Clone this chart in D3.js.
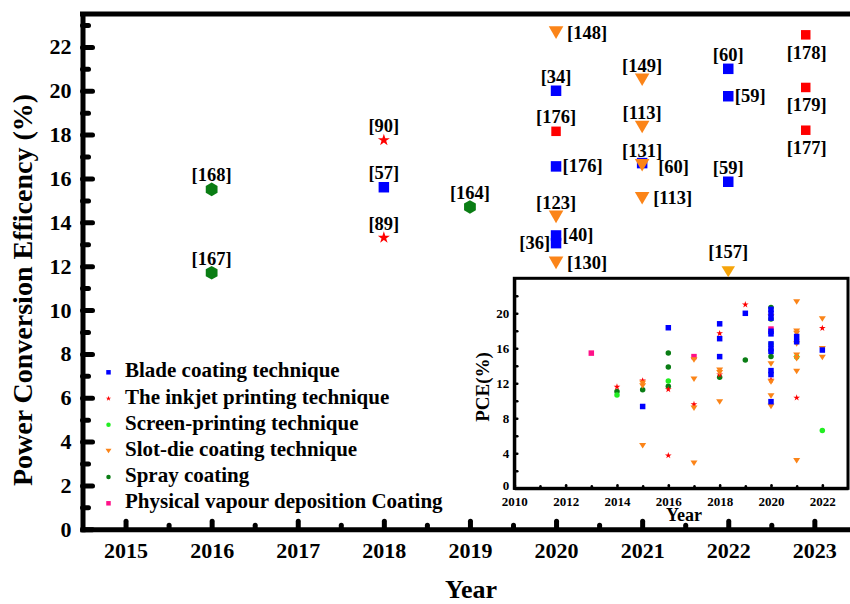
<!DOCTYPE html>
<html>
<head>
<meta charset="utf-8">
<script src="https://cdn.jsdelivr.net/npm/d3@7"></script>
<style>
  body { margin: 0; background: #fff; }
  text { font-family: "Liberation Serif", "Times New Roman", serif; font-weight: bold; fill: #000; }
</style>
</head>
<body>
<div class="chart"></div>
<script>
// ---- main panel data (year, PCE %, reference) ----
var mainBladeYears = [2018, 2020, 2020, 2020, 2020, 2021, 2022, 2022, 2022];
var mainBladePCE   = [15.6, 20.0, 16.55, 13.4, 13.05, 16.7, 21.0, 19.75, 15.85];
var mainBladeRefs  = ['[57]', '[34]', '[176]', '[40]', '[36]', '[60]', '[60]', '[59]', '[59]'];

var mainInkjetYears = [2018, 2018];
var mainInkjetPCE   = [17.75, 13.3];
var mainInkjetRefs  = ['[90]', '[89]'];

var mainSprayYears = [2016, 2016, 2019];
var mainSprayPCE   = [15.5, 11.7, 14.7];
var mainSprayRefs  = ['[168]', '[167]', '[164]'];

var mainSlotYears = [2020, 2020, 2020, 2021, 2021, 2021, 2021];
var mainSlotPCE   = [22.65, 14.25, 12.15, 20.5, 18.35, 16.6, 15.1];
var mainSlotRefs  = ['[148]', '[123]', '[130]', '[149]', '[113]', '[131]', '[113]'];

var mainSlot2Years = [2022];
var mainSlot2PCE   = [11.75];
var mainSlot2Refs  = ['[157]'];

var mainOtherYears = [2020, 2022.9, 2022.9, 2022.9];
var mainOtherPCE   = [18.15, 22.55, 20.15, 18.2];
var mainOtherRefs  = ['[176]', '[178]', '[179]', '[177]'];

// where each reference label sits around its marker (t = top, r = right, l = left, b = below)
var bladeLabelSide  = ['t', 't', 'r', 'r', 'l', 'rr', 't', 'r', 't'];
var inkjetLabelSide = ['t', 't'];
var sprayLabelSide  = ['t', 't', 't'];
var slotLabelSide   = ['r', 't', 'r', 't', 't', 't', 'r'];
var slot2LabelSide  = ['T'];
var otherLabelSide  = ['t', 'b', 'b', 'b'];

var legendNames = ['Blade coating technique', 'The inkjet printing technique', 'Screen-printing technique',
                   'Slot-die coating technique', 'Spray coating', 'Physical vapour deposition Coating'];

var xTickYears = [2015, 2016, 2017, 2018, 2019, 2020, 2021, 2022, 2023];
var yTickValues = [0, 2, 4, 6, 8, 10, 12, 14, 16, 18, 20, 22];

// ---- inset data ----
var insetBladeYears = [2015, 2016, 2018, 2018, 2018, 2019, 2020, 2020, 2020, 2020, 2020, 2020, 2020, 2020, 2020, 2020, 2020, 2021, 2021, 2022];
var insetBladePCE   = [9.35, 18.35, 18.8, 17.1, 15.05, 20.0, 20.45, 20.0, 19.45, 17.95, 17.65, 16.5, 15.95, 15.65, 13.45, 13.0, 9.9, 17.35, 16.75, 15.8];

var insetInkjetYears = [2014, 2015, 2016, 2016, 2017, 2018, 2018, 2019, 2020, 2021, 2022];
var insetInkjetPCE   = [11.6, 12.3, 11.3, 3.75, 9.6, 17.7, 13.0, 21.0, 12.4, 10.35, 18.3];

var insetScreenYears = [2014, 2016, 2020, 2021, 2022];
var insetScreenPCE   = [10.65, 12.25, 16.5, 15.0, 6.6];

var insetSlotYears = [2015, 2015, 2015, 2017, 2017, 2017, 2017, 2018, 2018, 2018, 2020, 2020, 2020, 2020, 2020,
                      2021, 2021, 2021, 2021, 2021, 2021, 2021, 2021, 2022, 2022, 2022];
var insetSlotPCE   = [12.0, 11.7, 4.85, 14.65, 12.45, 9.15, 2.85, 13.5, 13.2, 9.85, 19.6, 14.2, 12.15, 10.55, 9.35,
                      21.3, 17.95, 17.7, 16.5, 15.2, 14.8, 13.35, 3.15, 19.35, 15.95, 14.95];

var insetSprayYears = [2014, 2015, 2016, 2016, 2016, 2018, 2019, 2020, 2020, 2020];
var insetSprayPCE   = [11.05, 11.25, 15.45, 13.85, 11.65, 12.7, 14.65, 20.65, 19.35, 15.05];

var insetPvdYears = [2013, 2017, 2020];
var insetPvdPCE   = [15.45, 15.05, 18.2];

var insetXTicks = [2010, 2012, 2014, 2016, 2018, 2020, 2022];
var insetYTicks = [0, 4, 8, 12, 16, 20];

// ---- colours ----
var cBlue = '#0000ff', cRed = '#ff0000', cLime = '#22ee22', cOrange = '#fb8418',
    cGold = '#f6a40a', cGreen = '#0a7d14', cPink = '#ff1088';

var svgWidth = 850;
var svgHeight = 604;
var serif = '"Liberation Serif", "Times New Roman", serif';

var svg = d3.select('.chart')
  .append('svg')
  .attr('width', svgWidth)
  .attr('height', svgHeight);

// main scales
var x = d3.scaleLinear().domain([2014.5, 2023.5]).range([82.5, 857.4]);
var y = d3.scaleLinear().domain([0, 23.5]).range([529.3, 14]);

// marker shapes
function trianglePath(w, h) {
  return 'M' + (-w / 2) + ',' + (-h / 2) + 'L' + (w / 2) + ',' + (-h / 2) + 'L0,' + (h / 2) + 'Z';
}
function hexPath(r) {
  var p = [];
  for (var i = 0; i < 6; i++) {
    var a = Math.PI / 3 * i - Math.PI / 2;
    p.push([r * Math.cos(a), r * Math.sin(a)]);
  }
  return 'M' + p.join('L') + 'Z';
}
function squarePath(s) { return d3.symbol(d3.symbolSquare, s * s)(); }
function starPath(size) { return d3.symbol(d3.symbolStar, size)(); }
function circlePath(d) { return d3.symbol(d3.symbolCircle, Math.PI * d * d / 4)(); }

// ---- main axes ----
function styleAxis(g, size) {
  g.select('.domain').attr('stroke-width', 5).attr('stroke-linecap', 'square');
  g.selectAll('.tick line').attr('stroke-width', 5).attr('stroke-linecap', 'round');
  g.selectAll('.tick text').style('font-size', size + 'px').style('font-family', serif).style('font-weight', 'bold');
}

var xAxisG = svg.append('g')
  .attr('transform', 'translate(0,529.3)')
  .call(d3.axisBottom(x).tickValues(xTickYears).tickFormat(d3.format('d'))
    .tickSize(-8).tickSizeOuter(0).tickPadding(13));
styleAxis(xAxisG, 22);

var xMinorG = svg.append('g')
  .attr('transform', 'translate(0,529.3)')
  .call(d3.axisBottom(x).tickValues(d3.range(2015.5, 2023.6, 1)).tickFormat('').tickSize(-4).tickSizeOuter(0));
xMinorG.select('.domain').remove();
styleAxis(xMinorG, 22);

var yAxisG = svg.append('g')
  .attr('transform', 'translate(82.5,0)')
  .call(d3.axisLeft(y).tickValues(yTickValues).tickSize(-10).tickSizeOuter(0).tickPadding(11));
styleAxis(yAxisG, 22);

var yMinorG = svg.append('g')
  .attr('transform', 'translate(82.5,0)')
  .call(d3.axisLeft(y).tickValues(d3.range(1, 24, 2)).tickFormat('').tickSize(-6).tickSizeOuter(0));
yMinorG.select('.domain').remove();
styleAxis(yMinorG, 22);

// top frame
svg.append('line')
  .attr('x1', 82.5).attr('x2', svgWidth + 5)
  .attr('y1', y(23.5)).attr('y2', y(23.5))
  .attr('stroke', '#000').attr('stroke-width', 5).attr('stroke-linecap', 'square');

// axis titles
svg.append('text')
  .attr('transform', 'translate(32,290) rotate(-90)')
  .attr('text-anchor', 'middle')
  .style('font-size', '28px')
  .text('Power Conversion Efficency (%)');

svg.append('text')
  .attr('x', 471).attr('y', 598)
  .attr('text-anchor', 'middle')
  .style('font-size', '26px')
  .text('Year');

// ---- inset ----
var ix = d3.scaleLinear().domain([2010, 2023]).range([514.3, 848]);
var iy = d3.scaleLinear().domain([0, 24]).range([488.3, 278.3]);

var inset = svg.append('g');
inset.append('rect')
  .attr('x', ix(2010)).attr('y', iy(24))
  .attr('width', ix(2023) - ix(2010)).attr('height', iy(0) - iy(24))
  .attr('fill', '#fff').attr('stroke', '#000').attr('stroke-width', 3);

function styleInsetAxis(g) {
  g.select('.domain').attr('stroke-width', 3);
  g.selectAll('.tick line').attr('stroke-width', 2.5).attr('stroke-linecap', 'round');
  g.selectAll('.tick text').style('font-size', '13px').style('font-family', serif).style('font-weight', 'bold');
}

var ixAxis = inset.append('g')
  .attr('transform', 'translate(0,' + iy(0) + ')')
  .call(d3.axisBottom(ix).tickValues(insetXTicks).tickFormat(d3.format('d')).tickSize(-3).tickSizeOuter(0).tickPadding(8));
styleInsetAxis(ixAxis);
var ixMinor = inset.append('g')
  .attr('transform', 'translate(0,' + iy(0) + ')')
  .call(d3.axisBottom(ix).tickValues(d3.range(2011, 2023, 2)).tickFormat('').tickSize(-2).tickSizeOuter(0));
ixMinor.select('.domain').remove();
styleInsetAxis(ixMinor);

var iyAxis = inset.append('g')
  .attr('transform', 'translate(' + ix(2010) + ',0)')
  .call(d3.axisLeft(iy).tickValues(insetYTicks).tickSize(-3).tickSizeOuter(0).tickPadding(5));
styleInsetAxis(iyAxis);
// lift the "0" a little so it clears the "2010" below it
iyAxis.selectAll('.tick text').filter(function(d) { return d === 0; }).attr('dy', '0.1em');
var iyMinor = inset.append('g')
  .attr('transform', 'translate(' + ix(2010) + ',0)')
  .call(d3.axisLeft(iy).tickValues([2, 6, 10, 14, 18, 22]).tickFormat('').tickSize(-3).tickSizeOuter(0));
iyMinor.select('.domain').remove();
styleInsetAxis(iyMinor);

inset.append('text')
  .attr('transform', 'translate(489,387) rotate(-90)')
  .attr('text-anchor', 'middle')
  .style('font-size', '19px')
  .text('PCE(%)');

inset.append('text')
  .attr('x', 684).attr('y', 521)
  .attr('text-anchor', 'middle')
  .style('font-size', '18px')
  .text('Year');

function insetPoints(years, pce, path, color) {
  inset.append('g').selectAll('path')
    .data(d3.zip(years, pce))
    .enter().append('path')
    .attr('d', path)
    .attr('fill', color)
    .attr('transform', function(d) { return 'translate(' + ix(d[0]) + ',' + iy(d[1]) + ')'; });
}

insetPoints(insetSprayYears, insetSprayPCE, circlePath(5.5), cGreen);
insetPoints(insetScreenYears, insetScreenPCE, circlePath(5.5), cLime);
insetPoints(insetPvdYears, insetPvdPCE, squarePath(5.5), cPink);
insetPoints(insetInkjetYears, insetInkjetPCE, starPath(14), cRed);
insetPoints(insetSlotYears, insetSlotPCE, trianglePath(7, 5.5), cOrange);
insetPoints(insetBladeYears, insetBladePCE, squarePath(5.5), cBlue);

// ---- legend ----
var legendShapes = [squarePath(4.5), starPath(9), circlePath(4.5), trianglePath(6, 4.5), circlePath(4.5), squarePath(4.5)];
var legendColors = [cBlue, cRed, cLime, cOrange, cGreen, cPink];

var legend = svg.append('g').selectAll('g')
  .data(legendNames)
  .enter().append('g')
  .attr('transform', function(d, i) { return 'translate(108.5,' + (377.3 + i * 26.2) + ')'; });
legend.append('path')
  .attr('d', function(d, i) { return legendShapes[i]; })
  .attr('fill', function(d, i) { return legendColors[i]; })
  .attr('transform', 'translate(0,-5)');
legend.append('text')
  .attr('x', 16.5)
  .style('font-size', '21px')
  .text(function(d) { return d; });

// ---- main markers and reference labels ----
function labelAt(side, cx, cy, rPad) {
  if (side === 't') return [cx, cy - 8, 'middle'];
  if (side === 'T') return [cx, cy - 14, 'middle'];
  if (side === 'b') return [cx + 1, cy + 24, 'middle'];
  if (side === 'r') return [cx + rPad, cy + 6, 'start'];
  if (side === 'rr') return [cx + 16, cy + 10, 'start'];
  return [cx - 6, cy + 6, 'end'];
}

function mainPoints(years, pce, refs, sides, path, color, rPad) {
  var rows = d3.zip(years, pce, refs, sides);
  var g = svg.append('g');
  g.selectAll('path')
    .data(rows)
    .enter().append('path')
    .attr('d', path)
    .attr('fill', color)
    .attr('transform', function(d) { return 'translate(' + x(d[0]) + ',' + y(d[1]) + ')'; });
  g.selectAll('text')
    .data(rows)
    .enter().append('text')
    .each(function(d) {
      var p = labelAt(d[3], x(d[0]), y(d[1]), rPad);
      d3.select(this).attr('x', p[0]).attr('y', p[1]).attr('text-anchor', p[2]);
    })
    .style('font-size', '18.5px')
    .text(function(d) { return d[2]; });
}

mainPoints(mainSprayYears, mainSprayPCE, mainSprayRefs, sprayLabelSide, hexPath(6.8), cGreen, 9);
mainPoints(mainInkjetYears, mainInkjetPCE, mainInkjetRefs, inkjetLabelSide, starPath(45), cRed, 9);
mainPoints(mainOtherYears, mainOtherPCE, mainOtherRefs, otherLabelSide, squarePath(9.5), cRed, 7);
mainPoints(mainBladeYears, mainBladePCE, mainBladeRefs, bladeLabelSide, squarePath(10.5), cBlue, 6.5);
mainPoints(mainSlotYears, mainSlotPCE, mainSlotRefs, slotLabelSide, trianglePath(14.6, 12.6), cOrange, 11);
mainPoints(mainSlot2Years, mainSlot2PCE, mainSlot2Refs, slot2LabelSide, trianglePath(13.5, 11), cGold, 11);
</script>
</body>
</html>
